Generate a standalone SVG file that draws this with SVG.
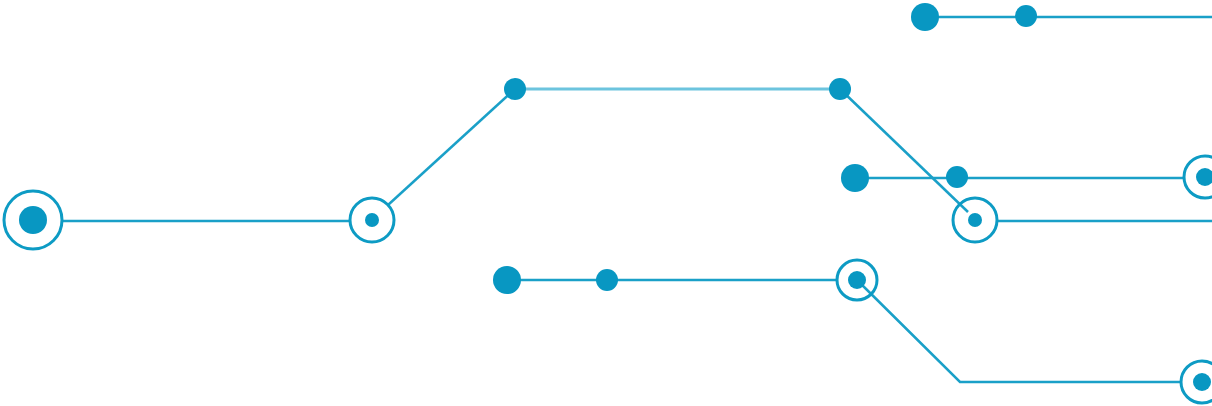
<svg xmlns="http://www.w3.org/2000/svg" width="1212" height="406" viewBox="0 0 1212 406">
<style>
.l{fill:none;stroke:#1aa0c8;stroke-width:2.5}
.l2{fill:none;stroke:#6cc4de;stroke-width:3}
.r{fill:none;stroke:#0d9bc4;stroke-width:3}
.d{fill:#0897c2}
</style>
<rect width="1212" height="406" fill="#fff"/>
<g id="connectors">
<line class="l" x1="62" y1="221" x2="350" y2="221"/>
<line class="l" x1="388" y1="205" x2="515" y2="89"/>
<line class="l2" x1="515" y1="89" x2="840" y2="89"/>
<line class="l" x1="840" y1="89" x2="968" y2="212"/>
<line class="l" x1="997" y1="221" x2="1212" y2="221"/>
<line class="l" x1="925" y1="17" x2="1212" y2="17"/>
<line class="l" x1="855" y1="178" x2="1183" y2="178"/>
<line class="l" x1="507" y1="280" x2="836" y2="280"/>
<polyline class="l" points="857,280 960,382 1181,382"/>
</g>
<g id="n1"><circle class="r" cx="33" cy="220" r="29"/><circle class="d" cx="33" cy="220" r="14"/></g>
<g id="n2"><circle class="r" cx="372" cy="220" r="22"/><circle class="d" cx="372" cy="220" r="7"/></g>
<g id="n3"><circle class="d" cx="515" cy="89" r="11"/></g>
<g id="n4"><circle class="d" cx="840" cy="89" r="11"/></g>
<g id="n5"><circle class="r" cx="975" cy="220" r="22"/><circle class="d" cx="975" cy="220" r="7"/></g>
<g id="n6"><circle class="d" cx="925" cy="17" r="14"/></g>
<g id="n7"><circle class="d" cx="1026" cy="16" r="11"/></g>
<g id="n8"><circle class="d" cx="855" cy="178" r="14"/></g>
<g id="n9"><circle class="d" cx="957" cy="177" r="11"/></g>
<g id="n10"><circle class="r" cx="1205" cy="177" r="21"/><circle class="d" cx="1205" cy="177" r="9"/></g>
<g id="n11"><circle class="d" cx="507" cy="280" r="14"/></g>
<g id="n12"><circle class="d" cx="607" cy="280" r="11"/></g>
<g id="n13"><circle class="r" cx="857" cy="280" r="20"/><circle class="d" cx="857" cy="280" r="9"/></g>
<g id="n14"><circle class="r" cx="1202" cy="382" r="21"/><circle class="d" cx="1202" cy="382" r="9"/></g>
</svg>
